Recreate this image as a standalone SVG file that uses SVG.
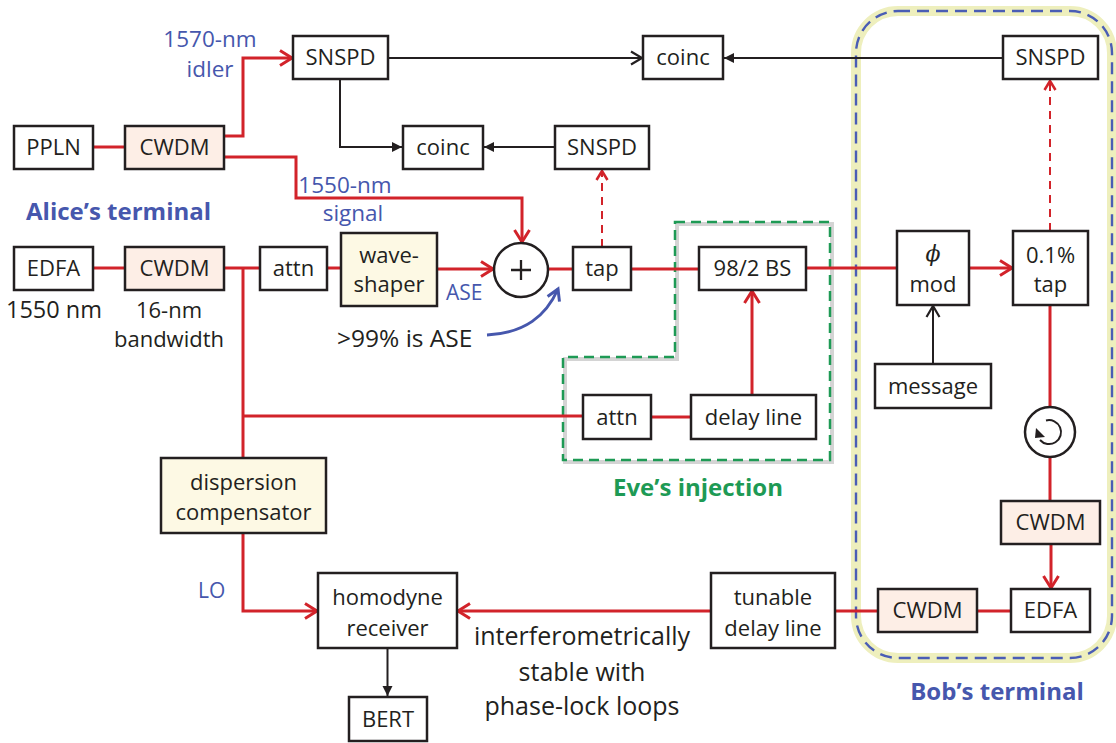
<svg xmlns="http://www.w3.org/2000/svg" width="1116" height="743" viewBox="0 0 1116 743">
<style>
.box{fill:#fff;stroke:#231f20;stroke-width:2.5}
.cw{fill:#fdeee6;stroke:#231f20;stroke-width:2.5}
.cr{fill:#fdf9e4;stroke:#231f20;stroke-width:2.5}
.t{font-family:"Open Sans","DejaVu Sans",sans-serif;font-size:22px;fill:#231f20;text-anchor:middle}
.l{font-family:"Open Sans","DejaVu Sans",sans-serif;font-size:22px;fill:#231f20;text-anchor:middle}
.bl{font-family:"Open Sans","DejaVu Sans",sans-serif;font-size:22.5px;fill:#4657ad;text-anchor:middle}
.ti{font-family:"Open Sans","DejaVu Sans",sans-serif;font-size:24px;font-weight:bold;text-anchor:middle}
.red{fill:none;stroke:#d2232a;stroke-width:3}
.redd{fill:none;stroke:#d2232a;stroke-width:2;stroke-dasharray:8,6}
.blk{fill:none;stroke:#231f20;stroke-width:2}
</style>
<defs>
<marker id="rc" markerUnits="userSpaceOnUse" markerWidth="16" markerHeight="18" refX="13" refY="8" orient="auto" overflow="visible">
<path d="M1,0.5 L13,8 L1,15.5" fill="none" stroke="#d2232a" stroke-width="3"/>
</marker>
<marker id="rcs" markerUnits="userSpaceOnUse" markerWidth="14" markerHeight="14" refX="10" refY="6" orient="auto" overflow="visible">
<path d="M1,0.5 L10,6 L1,11.5" fill="none" stroke="#d2232a" stroke-width="2.5"/>
</marker>
<marker id="kc" markerUnits="userSpaceOnUse" markerWidth="16" markerHeight="16" refX="12" refY="7" orient="auto" overflow="visible">
<path d="M1,0.5 L12,7 L1,13.5" fill="none" stroke="#231f20" stroke-width="2.2"/>
</marker>
<marker id="kf" markerUnits="userSpaceOnUse" markerWidth="12" markerHeight="12" refX="10" refY="5" orient="auto" overflow="visible">
<path d="M0,0 L10,5 L0,10 Z" fill="#231f20"/>
</marker>
<marker id="bc" markerUnits="userSpaceOnUse" markerWidth="16" markerHeight="16" refX="12" refY="7" orient="auto" overflow="visible">
<path d="M1,0.5 L12,7 L1,13.5" fill="none" stroke="#4657ad" stroke-width="3"/>
</marker>
</defs>

<g id="bob-region">
<rect x="856" y="11" width="256" height="647" rx="42" fill="none" stroke="#eeefbd" stroke-width="10"/>
<rect x="856" y="11" width="256" height="647" rx="42" fill="none" stroke="#4a5db5" stroke-width="2.4" stroke-dasharray="12,7"/>
</g>
<g id="eve-region">
<polygon points="677,224 832,224 832,462 565,462 565,359 677,359" fill="none" stroke="#d4d4d4" stroke-width="4"/>
<polygon points="675,222 830,222 830,460 563,460 563,357 675,357" fill="none" stroke="#1e9a55" stroke-width="2.5" stroke-dasharray="10,6"/>
</g>

<g id="connectors">
<path class="red" d="M93,147 H125"/>
<path class="red" d="M224,136 H243 V58 H292" marker-end="url(#rc)"/>
<path class="red" d="M224,157 H296 V198 H522 V242" marker-end="url(#rc)"/>
<path class="red" d="M93,268 H125"/>
<path class="red" d="M224,268 H260"/>
<path class="red" d="M327,268 H341"/>
<path class="red" d="M437,269 H493" marker-end="url(#rc)"/>
<path class="red" d="M548,269 H573"/>
<path class="red" d="M631,269 H699"/>
<path class="red" d="M806,268 H897"/>
<path class="red" d="M969,268 H1012" marker-end="url(#rc)"/>
<path class="red" d="M243,268 V459"/>
<path class="red" d="M243,416 H583"/>
<path class="red" d="M651,417 H691"/>
<path class="red" d="M752,395 V291" marker-end="url(#rc)"/>
<path class="red" d="M243,533 V611 H317" marker-end="url(#rc)"/>
<path class="red" d="M711,611 H458" marker-end="url(#rc)"/>
<path class="red" d="M835,611 H878"/>
<path class="red" d="M977,611 H1011"/>
<path class="red" d="M1050,305 V408"/>
<path class="red" d="M1050,458 V501"/>
<path class="red" d="M1051,544 V588" marker-end="url(#rc)"/>
<path class="redd" d="M602,247 V171" marker-end="url(#rcs)"/>
<path class="redd" d="M1050,231 V81" marker-end="url(#rcs)"/>
<path class="blk" d="M388,58 H642" marker-end="url(#kc)"/>
<path class="blk" d="M1003,58 H724" marker-end="url(#kf)"/>
<path class="blk" d="M340,79 V147 H402" marker-end="url(#kf)"/>
<path class="blk" d="M555,147 H484" marker-end="url(#kf)"/>
<path class="blk" d="M387.5,648 V696" marker-end="url(#kf)"/>
<path class="blk" d="M933,364 V306" marker-end="url(#kc)"/>
<path d="M487,335 C525,333 546,316 558,289" fill="none" stroke="#4657ad" stroke-width="3" marker-end="url(#bc)"/>
</g>

<g id="ppln"><rect class="box" x="14" y="126" width="79" height="43"/><text class="t" x="53.5" y="155">PPLN</text></g>
<g id="cwdm-alice1"><rect class="cw" x="125" y="126" width="99" height="43"/><text class="t" x="174.5" y="155">CWDM</text></g>
<g id="snspd-a"><rect class="box" x="293" y="36" width="95" height="43"/><text class="t" x="340.5" y="65">SNSPD</text></g>
<g id="coinc-top"><rect class="box" x="643" y="36" width="80" height="43"/><text class="t" x="683" y="65">coinc</text></g>
<g id="snspd-bob"><rect class="box" x="1003" y="36" width="95" height="43"/><text class="t" x="1050.5" y="65">SNSPD</text></g>
<g id="coinc-mid"><rect class="box" x="403" y="126" width="80" height="43"/><text class="t" x="443" y="155">coinc</text></g>
<g id="snspd-mid"><rect class="box" x="555" y="126" width="94" height="43"/><text class="t" x="602" y="155">SNSPD</text></g>
<g id="edfa-alice"><rect class="box" x="14" y="247" width="79" height="43"/><text class="t" x="53.5" y="276">EDFA</text></g>
<g id="cwdm-alice2"><rect class="cw" x="125" y="247" width="99" height="43"/><text class="t" x="174.5" y="276">CWDM</text></g>
<g id="attn-alice"><rect class="box" x="260" y="247" width="67" height="43"/><text class="t" x="293.5" y="276">attn</text></g>
<g id="waveshaper"><rect class="cr" x="341" y="233" width="96" height="73"/><text class="t" x="389" y="263">wave-</text><text class="t" x="389" y="292">shaper</text></g>
<g id="adder"><circle cx="521" cy="270" r="27" fill="#fff" stroke="#231f20" stroke-width="2.5"/><path d="M521,260 V280 M511,270 H531" stroke="#231f20" stroke-width="2.3"/></g>
<g id="tap"><rect class="box" x="573" y="247" width="58" height="43"/><text class="t" x="602" y="276">tap</text></g>
<g id="bs"><rect class="box" x="699" y="247" width="107" height="43"/><text class="t" x="752.5" y="276">98/2 BS</text></g>
<g id="attn-eve"><rect class="box" x="583" y="395" width="68" height="44"/><text class="t" x="617" y="425">attn</text></g>
<g id="delay-eve"><rect class="box" x="691" y="395" width="125" height="44"/><text class="t" x="753.5" y="425">delay line</text></g>
<g id="phimod"><rect class="box" x="897" y="231" width="72" height="74"/><text x="933" y="261" text-anchor="middle" font-family="'DejaVu Serif',serif" font-style="italic" font-size="22" fill="#231f20">ϕ</text><text class="t" x="933" y="292">mod</text></g>
<g id="tap01"><rect class="box" x="1013" y="231" width="75" height="74"/><text class="t" x="1050.5" y="263">0.1%</text><text class="t" x="1050.5" y="292">tap</text></g>
<g id="message"><rect class="box" x="875" y="364" width="116" height="44"/><text class="t" x="933" y="394">message</text></g>
<g id="circulator"><circle cx="1050" cy="432" r="25" fill="#fff" stroke="#231f20" stroke-width="2.5"/><path d="M1046,420.5 A12,12 0 1 1 1040,440" fill="none" stroke="#231f20" stroke-width="2"/><path d="M1036,428 L1045,437 L1035,438 Z" fill="#231f20"/></g>
<g id="cwdm-bob1"><rect class="cw" x="1001" y="501" width="99" height="43"/><text class="t" x="1050.5" y="530">CWDM</text></g>
<g id="cwdm-bob2"><rect class="cw" x="878" y="589" width="99" height="43"/><text class="t" x="927.5" y="618">CWDM</text></g>
<g id="edfa-bob"><rect class="box" x="1011" y="589" width="79" height="43"/><text class="t" x="1050.5" y="618">EDFA</text></g>
<g id="tunable"><rect class="box" x="711" y="573" width="124" height="75"/><text class="t" x="773" y="605">tunable</text><text class="t" x="773" y="636">delay line</text></g>
<g id="dispersion"><rect class="cr" x="161" y="458" width="165" height="75"/><text class="t" x="243.5" y="490">dispersion</text><text class="t" x="243.5" y="520">compensator</text></g>
<g id="homodyne"><rect class="box" x="318" y="573" width="139" height="75"/><text class="t" x="387.5" y="605">homodyne</text><text class="t" x="387.5" y="636">receiver</text></g>
<g id="bert"><rect class="box" x="349" y="697" width="78" height="44"/><text class="t" x="388" y="727">BERT</text></g>

<g id="labels">
<text class="bl" x="210" y="47">1570-nm</text>
<text class="bl" x="210" y="77">idler</text>
<text class="bl" x="345" y="193">1550-nm</text>
<text class="bl" x="353" y="221">signal</text>
<text class="ti" x="26" y="220" fill="#4657ad" style="text-anchor:start">Alice’s terminal</text>
<text class="l" x="54" y="318" style="font-size:23.5px">1550 nm</text>
<text class="l" x="169" y="318">16-nm</text>
<text class="l" x="169" y="347">bandwidth</text>
<text class="bl" x="446" y="300" style="text-anchor:start;font-size:21px">ASE</text>
<text class="l" x="337" y="347" style="text-anchor:start;font-size:24.5px">&gt;99% is ASE</text>
<text class="ti" x="698" y="496" fill="#1e9a55">Eve’s injection</text>
<text class="bl" x="198" y="598" style="text-anchor:start;font-size:21px">LO</text>
<text class="l" x="582" y="645" style="font-size:25px">interferometrically</text>
<text class="l" x="582" y="681" style="font-size:25px">stable with</text>
<text class="l" x="582" y="715" style="font-size:25px">phase-lock loops</text>
<text class="ti" x="997" y="700" fill="#4657ad">Bob’s terminal</text>
</g>
</svg>
